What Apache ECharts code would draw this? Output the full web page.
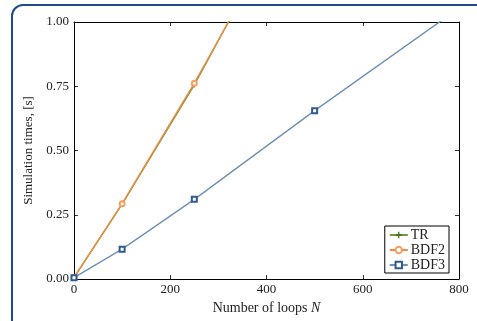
<!DOCTYPE html>
<html><head><meta charset="utf-8">
<script src="https://cdn.jsdelivr.net/npm/echarts@6/dist/echarts.min.js"></script>
<style>html,body{margin:0;padding:0;background:#fff}#c{width:477px;height:321px}</style>
</head><body><div id="c"></div>
<script>
var loopsTR = [0, 100, 250, 500];
var timesTR = [0.005, 0.291, 0.755, 1.62];
var loopsBDF2 = [0, 100, 250, 500];
var timesBDF2 = [0.006, 0.293, 0.762, 1.60];
var loopsBDF3 = [0, 100, 250, 500, 1000];
var timesBDF3 = [0.005, 0.116, 0.31, 0.655, 1.32];
var xTicks = [0, 200, 400, 600, 800];
var yTicks = [0, 0.25, 0.5, 0.75, 1.0];
var seriesNames = ['TR', 'BDF2', 'BDF3'];

function pairs(xs, ys){ return xs.map(function(x,i){return [x, ys[i]];}); }
var FONT = 'Liberation Serif';
var chart = echarts.init(document.getElementById('c'), null, {renderer:'canvas'});
var axisCommon = {
  axisLine:{show:true, onZero:false, lineStyle:{color:'#000', width:1}},
  axisTick:{show:true, inside:true, length:4, lineStyle:{color:'#000', width:0.8}},
  splitLine:{show:false}
};
chart.setOption({
  animation:false,
  graphic:[{type:'rect', shape:{x:12, y:5, width:520, height:360, r:11},
    style:{fill:'none', stroke:'#1d4c86', lineWidth:2}, z:100}],
  grid:{left:74, right:18, top:22, bottom:42},
  xAxis:[
    Object.assign({type:'value', min:xTicks[0], max:xTicks[xTicks.length-1], interval:xTicks[1]-xTicks[0],
      position:'bottom', name:'Number of loops {i|N}', nameLocation:'middle', nameGap:18,
      nameTextStyle:{fontFamily:FONT, fontSize:14, color:'#222', rich:{i:{fontFamily:FONT, fontStyle:'italic', fontSize:14, color:'#222'}}},
      axisLabel:{fontFamily:FONT, fontSize:13, color:'#222', margin:4}}, axisCommon),
    Object.assign({type:'value', min:xTicks[0], max:xTicks[xTicks.length-1], interval:xTicks[1]-xTicks[0],
      position:'top', axisLabel:{show:false}}, axisCommon)
  ],
  yAxis:[
    Object.assign({type:'value', min:yTicks[0], max:yTicks[yTicks.length-1], interval:yTicks[1]-yTicks[0],
      position:'left', name:'Simulation times, [s]', nameLocation:'middle', nameGap:37,
      nameTextStyle:{fontFamily:FONT, fontSize:13, color:'#222'},
      axisLabel:{fontFamily:FONT, fontSize:13, color:'#222', margin:5, formatter:function(v){return v.toFixed(2);}}}, axisCommon),
    Object.assign({type:'value', min:yTicks[0], max:yTicks[yTicks.length-1], interval:yTicks[1]-yTicks[0],
      position:'right', axisLabel:{show:false}}, axisCommon)
  ],
  legend:{
    data:seriesNames, orient:'vertical', right:28, bottom:48,
    backgroundColor:'#fff', borderColor:'#000', borderWidth:1, borderRadius:0,
    padding:[2,4,1,4], itemGap:1, itemWidth:18, itemHeight:8,
    textStyle:{fontFamily:FONT, fontSize:14, color:'#222', padding:[0,0,0,-2]}
  },
  series:[
    {name:seriesNames[0], type:'line', data:pairs(loopsTR, timesTR), clip:true,
      symbol:'path://M4,0H6V4H10V6H6V10H4V6H0V4H4Z', symbolSize:5, showAllSymbol:true,
      lineStyle:{color:'#6f9a3c', width:1.4}, itemStyle:{color:'#3f6f1c'}, z:2},
    {name:seriesNames[1], type:'line', data:pairs(loopsBDF2, timesBDF2), clip:true,
      symbol:'emptyCircle', symbolSize:5,
      lineStyle:{color:'#ef8a3e', width:1.4}, itemStyle:{color:'#f5a060', borderWidth:1}, z:3},
    {name:seriesNames[2], type:'line', data:pairs(loopsBDF3, timesBDF3), clip:true,
      symbol:'emptyRect', symbolSize:5,
      lineStyle:{color:'#7090b4', width:1.4}, itemStyle:{color:'#2f5a90', borderWidth:1}, z:4}
  ]
});
</script></body></html>
